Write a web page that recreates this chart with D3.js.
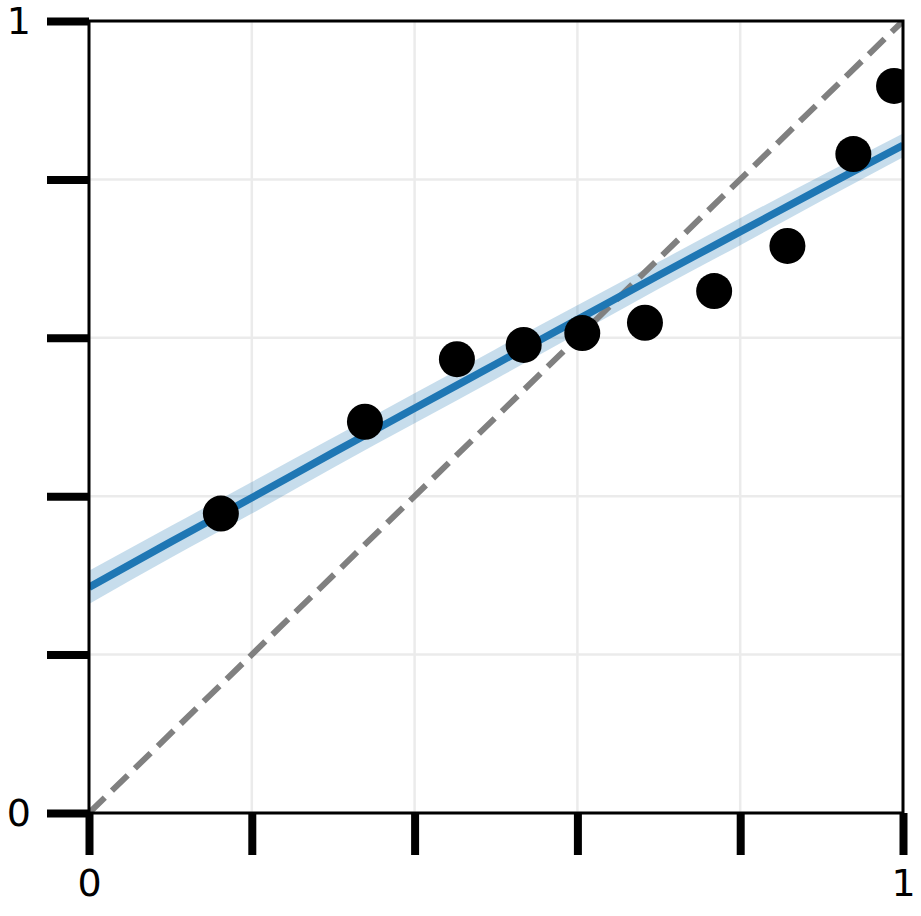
<!DOCTYPE html>
<html>
<head>
<meta charset="utf-8">
<style>
  body { margin: 0; background: #fff; }
  text { font-family: "DejaVu Sans", sans-serif; }
</style>
</head>
<body>
<svg width="921" height="916"></svg>
<script src="https://d3js.org/d3.v7.min.js"></script>
<script>

// observed points
var obsX = [0.162, 0.339, 0.452, 0.534, 0.606, 0.683, 0.768, 0.858, 0.939, 0.989];
var obsY = [0.378, 0.494, 0.573, 0.591, 0.606, 0.619, 0.659, 0.716, 0.832, 0.918];

// fitted curve with its band
var fitX  = [0, 0.1, 0.2, 0.3, 0.4, 0.5, 0.6, 0.7, 0.8, 0.9, 1];
var fitY  = [0.285, 0.342, 0.398, 0.455, 0.511, 0.567, 0.623, 0.679, 0.734, 0.789, 0.843];
var fitLo = [0.264, 0.322, 0.378, 0.436, 0.492, 0.548, 0.605, 0.662, 0.717, 0.773, 0.828];
var fitHi = [0.306, 0.362, 0.418, 0.474, 0.530, 0.586, 0.641, 0.696, 0.751, 0.805, 0.858];

var tickVals = [0, 0.2, 0.4, 0.6, 0.8, 1];
var tickLabels = {0: "0", 1: "1"};

var svg = d3.select("svg"),
    margin = {top: 21, left: 89},
    width = 814,
    height = 792;

var x = d3.scaleLinear().domain([0, 1]).range([0, width]);
var y = d3.scaleLinear().domain([0, 1]).range([height, 0]);

var g = svg.append("g")
    .attr("transform", "translate(" + margin.left + "," + margin.top + ")");

g.append("defs").append("clipPath")
    .attr("id", "clip")
  .append("rect")
    .attr("width", width)
    .attr("height", height);

// grid
g.append("g")
    .selectAll("line.gx")
    .data(tickVals)
    .enter().append("line")
      .attr("x1", function(d) { return x(d); })
      .attr("x2", function(d) { return x(d); })
      .attr("y1", 0)
      .attr("y2", height)
      .attr("stroke", "#ebebeb")
      .attr("stroke-width", 2.5);

g.append("g")
    .selectAll("line.gy")
    .data(tickVals)
    .enter().append("line")
      .attr("y1", function(d) { return y(d); })
      .attr("y2", function(d) { return y(d); })
      .attr("x1", 0)
      .attr("x2", width)
      .attr("stroke", "#ebebeb")
      .attr("stroke-width", 2.5);

var plot = g.append("g").attr("clip-path", "url(#clip)");

var fit = fitX.map(function(d, i) {
  return {x: d, y: fitY[i], lo: fitLo[i], hi: fitHi[i]};
});

plot.append("path")
    .datum(fit)
    .attr("fill", "#1f77b4")
    .attr("fill-opacity", 0.25)
    .attr("d", d3.area()
      .curve(d3.curveMonotoneX)
      .x(function(d) { return x(d.x); })
      .y0(function(d) { return y(d.lo); })
      .y1(function(d) { return y(d.hi); }));

// identity line
plot.append("line")
    .attr("x1", x(0)).attr("y1", y(0))
    .attr("x2", x(1)).attr("y2", y(1))
    .attr("stroke", "#808080")
    .attr("stroke-width", 6)
    .attr("stroke-dasharray", "22,10");

plot.append("path")
    .datum(fit)
    .attr("fill", "none")
    .attr("stroke", "#1f77b4")
    .attr("stroke-width", 7.5)
    .attr("d", d3.line()
      .curve(d3.curveMonotoneX)
      .x(function(d) { return x(d.x); })
      .y(function(d) { return y(d.y); }));

plot.selectAll("circle")
    .data(obsX.map(function(d, i) { return [d, obsY[i]]; }))
    .enter().append("circle")
      .attr("cx", function(d) { return x(d[0]); })
      .attr("cy", function(d) { return y(d[1]); })
      .attr("r", 18)
      .attr("fill", "#000");

// frame
g.append("rect")
    .attr("width", width)
    .attr("height", height)
    .attr("fill", "none")
    .attr("stroke", "#000")
    .attr("stroke-width", 3);

// axes
var xAxis = g.append("g")
    .attr("transform", "translate(0," + height + ")")
    .call(d3.axisBottom(x)
      .tickValues(tickVals)
      .tickSize(42)
      .tickPadding(14)
      .tickFormat(function(d) { return tickLabels[d] || ""; }));

var yAxis = g.append("g")
    .call(d3.axisLeft(y)
      .tickValues(tickVals)
      .tickSize(42)
      .tickPadding(16)
      .tickFormat(function(d) { return tickLabels[d] || ""; }));

[xAxis, yAxis].forEach(function(a) {
  a.select(".domain").remove();
  a.selectAll(".tick line")
      .attr("stroke", "#000")
      .attr("stroke-width", 8);
  a.selectAll(".tick text")
      .attr("fill", "#000")
      .style("font-size", "38px")
      .style("font-family", "DejaVu Sans, sans-serif");
});

</script>
</body>
</html>
